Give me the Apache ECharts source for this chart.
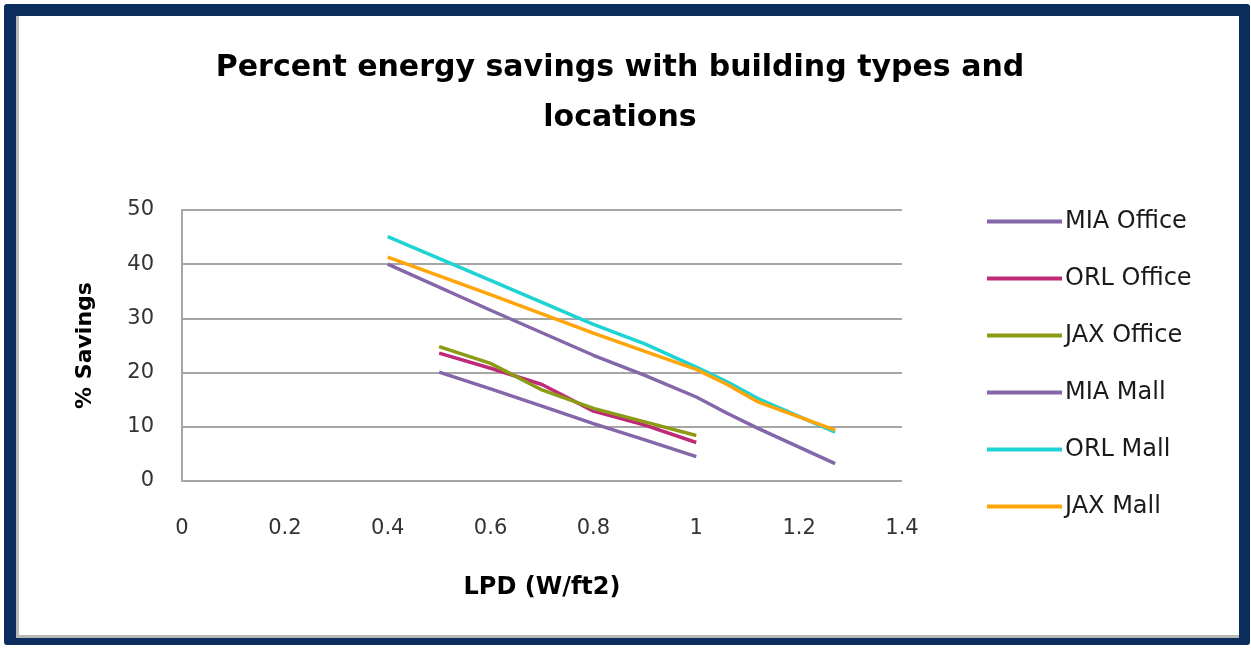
<!DOCTYPE html>
<html>
<head>
<meta charset="utf-8">
<script src="https://cdn.jsdelivr.net/npm/echarts@6/dist/echarts.min.js"></script>
<style>
  html, body { margin: 0; padding: 0; background: #ffffff; }
  #chart { position: absolute; left: 0; top: 0; width: 1251px; height: 649px; }
  #frame {
    position: absolute; left: 4px; top: 4px; width: 1223px; height: 622px;
    border: 12px solid #0b2d5c; border-bottom-width: 7px; border-right-width: 11px;
    box-shadow: inset 3px -3px 0 #b8b8b8; pointer-events: none; border-radius: 3px;
  }
</style>
</head>
<body>
<div id="chart"></div>
<div id="frame"></div>
<script>
// LPD (W/ft2) sample points and % savings per building type / location
const officeLPD = [0.5, 0.6, 0.7, 0.8, 0.9, 1.0];
const mallLPD = [0.4, 0.6, 0.8, 0.9, 1.0, 1.06, 1.12, 1.27];

const miaOffice = [20.1, 17.0, 13.8, 10.6, 7.6, 4.5];
const orlOffice = [23.6, 20.8, 17.8, 12.9, 10.3, 7.1];
const jaxOffice = [24.8, 21.7, 16.8, 13.4, 10.9, 8.4];
const miaMall = [40.0, 31.5, 23.2, 19.5, 15.5, 12.5, 9.7, 3.2];
const orlMall = [45.1, 37.0, 28.9, 25.3, 21.0, 18.3, 15.2, 9.0];
const jaxMall = [41.3, 34.4, 27.3, 23.9, 20.6, 17.8, 14.6, 9.4];

const xTicks = [0, 0.2, 0.4, 0.6, 0.8, 1, 1.2, 1.4];
const yTicks = [0, 10, 20, 30, 40, 50];

const seriesDefs = [
  { name: 'MIA Office', x: officeLPD, y: miaOffice, color: '#8467a9' },
  { name: 'ORL Office', x: officeLPD, y: orlOffice, color: '#be2a78' },
  { name: 'JAX Office', x: officeLPD, y: jaxOffice, color: '#8c9a14' },
  { name: 'MIA Mall', x: mallLPD, y: miaMall, color: '#8467a9' },
  { name: 'ORL Mall', x: mallLPD, y: orlMall, color: '#1dd3d3' },
  { name: 'JAX Mall', x: mallLPD, y: jaxMall, color: '#ffa50a' }
];

const chart = echarts.init(document.getElementById('chart'), null, { renderer: 'canvas' });
const labelFont = 'DejaVu Sans';

chart.setOption({
  animation: false,
  backgroundColor: '#ffffff',
  title: {
    text: 'Percent energy savings with building types and\nlocations',
    left: 615,
    top: 38,
    textAlign: 'center',
    textStyle: {
      fontFamily: 'DejaVu Sans', fontWeight: 'bold', fontSize: 30, lineHeight: 50, color: '#000000'
    }
  },
  legend: {
    orient: 'vertical',
    left: 982,
    top: 203,
    icon: 'rect',
    itemWidth: 75,
    itemHeight: 4,
    itemGap: 30,
    textStyle: { fontFamily: labelFont, fontSize: 24, lineHeight: 27, color: '#1a1a1a', padding: [0, 0, 0, -2] },
    data: seriesDefs.map(s => s.name)
  },
  grid: { left: 182, right: 349, top: 210, bottom: 168, containLabel: false },
  xAxis: {
    type: 'value',
    min: xTicks[0],
    max: xTicks[xTicks.length - 1],
    interval: 0.2,
    name: 'LPD (W/ft2)',
    nameLocation: 'middle',
    nameGap: 95,
    nameTextStyle: { fontFamily: labelFont, fontWeight: 'bold', fontSize: 24, color: '#000000' },
    axisLine: { show: false },
    axisTick: { show: false },
    splitLine: { show: false },
    axisLabel: { fontFamily: labelFont, fontSize: 21, color: '#333333', margin: 37 }
  },
  yAxis: {
    type: 'value',
    min: yTicks[0],
    max: yTicks[yTicks.length - 1],
    interval: 10,
    name: '% Savings',
    nameLocation: 'middle',
    nameRotate: 90,
    nameGap: 86,
    nameTextStyle: { fontFamily: labelFont, fontWeight: 'bold', fontSize: 22, color: '#000000' },
    axisLine: { show: true, lineStyle: { color: '#a6a6a6', width: 2 } },
    axisTick: { show: false },
    splitLine: { show: true, lineStyle: { color: '#a6a6a6', width: 2 } },
    axisLabel: { fontFamily: labelFont, fontSize: 21, color: '#333333', margin: 28 }
  },
  series: seriesDefs.map(s => ({
    name: s.name,
    type: 'line',
    showSymbol: false,
    symbol: 'none',
    color: s.color,
    lineStyle: { width: 3.5, color: s.color },
    data: s.x.map((v, i) => [v, s.y[i]])
  }))
});
</script>
</body>
</html>
